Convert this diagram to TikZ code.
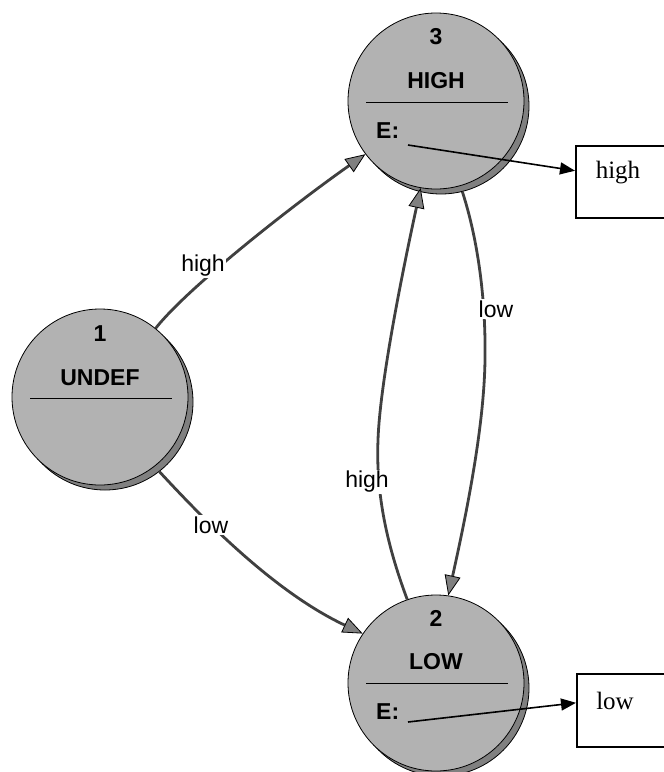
\documentclass[tikz,border=0pt]{standalone}
\usepackage{fontspec}
\setmainfont{Liberation Serif}
\newfontfamily\arialfont{Liberation Sans}
\usetikzlibrary{arrows.meta,calc}
\definecolor{statefill}{RGB}{178,178,178}
\definecolor{shadowfill}{RGB}{128,128,128}
\definecolor{edgecol}{RGB}{64,64,64}
\definecolor{tipfill}{RGB}{128,128,128}
\begin{document}
\begin{tikzpicture}[x=1pt,y=-1pt,
  statec/.style={circle, draw=black, line width=0.8pt, fill=statefill, minimum size=176pt, inner sep=0pt},
  shadowc/.style={circle, draw=black, line width=0.8pt, fill=shadowfill, minimum size=176pt, inner sep=0pt},
  stxt/.style={font=\arialfont\bfseries\fontsize{23}{26}\selectfont, inner sep=0pt},
  sep/.style={draw=black, line width=0.9pt},
  trans/.style={draw=edgecol, line width=2.8pt, -{Triangle[length=20pt,width=16pt,line width=0.8pt,color=black,fill=tipfill]}},
  tlabel/.style={font=\arialfont\fontsize{23}{26}\selectfont, fill=white, inner sep=1.5pt},
  eline/.style={draw=black, line width=1.6pt, -{Triangle[length=15pt,width=12pt]}},
  outbox/.style={draw=black, line width=1.5pt, anchor=north west, minimum width=130pt, minimum height=72pt, inner sep=0pt},
  otxt/.style={font=\fontsize{25}{28}\selectfont, inner sep=0pt}
]
\useasboundingbox (0,0) rectangle (664,772);
\clip (0,0) rectangle (664,772);
% states
\node[shadowc] (s1) at (105,402) {};
\node[statec] (n1) at (100,397) {};
\node[shadowc] (s3) at (441,106) {};
\node[statec] (n3) at (436,101) {};
\node[shadowc] (s2) at (441,688) {};
\node[statec] (n2) at (436,683) {};
% state texts
\node[stxt] (t1a) at (100,334) {1};
\node[stxt] (t1b) at (100,378) {UNDEF};
\draw[sep] (30,398) -- (172,398);
\node[stxt] (t3a) at (436,37) {3};
\node[stxt] (t3b) at (436,81) {HIGH};
\draw[sep] (366,102) -- (508,102);
\node[stxt, anchor=west] (t3e) at (376,131) {E:};
\node[stxt] (t2a) at (436,618) {2};
\node[stxt] (t2b) at (436,662) {LOW};
\draw[sep] (366,683) -- (508,683);
\node[stxt, anchor=west] (t2e) at (376,712) {E:};
% output boxes
\node[outbox] (hbox) at (575,145) {};
\node[otxt] (htxt) at (618,173) {high};
\node[outbox, minimum height=73pt] (lbox) at (576,673) {};
\node[otxt] (ltxt) at (615,701) {low};
\coordinate (e3) at (408,145);
\coordinate (e2) at (408,722);
\draw[eline] (e3) -- ($(hbox.north west)!0.35!(hbox.south west)$);
\draw[eline] (e2) -- ($(lbox.north west)!0.40!(lbox.south west)$);
% transitions
\draw[trans] (n1.51) .. controls (190,285) and (300,200) .. (n3.217);
\draw[trans] (s1.-52) .. controls (195,510) and (270,590) .. (n2.146);
\draw[trans] (n2.109) .. controls (385,540) and (376,490) .. (378,440) .. controls (380,380) and (405,260) .. (n3.260);
\draw[trans] (s3.-76) .. controls (478,240) and (486,300) .. (485,360) .. controls (484,430) and (465,520) .. (n2.82);
% transition labels
\node[tlabel] (l13) at (203,266) {high};
\node[tlabel] (l12) at (211,525) {low};
\node[tlabel] (l23) at (367,482) {high};
\node[tlabel] (l32) at (496,309) {low};
\end{tikzpicture}
\end{document}
